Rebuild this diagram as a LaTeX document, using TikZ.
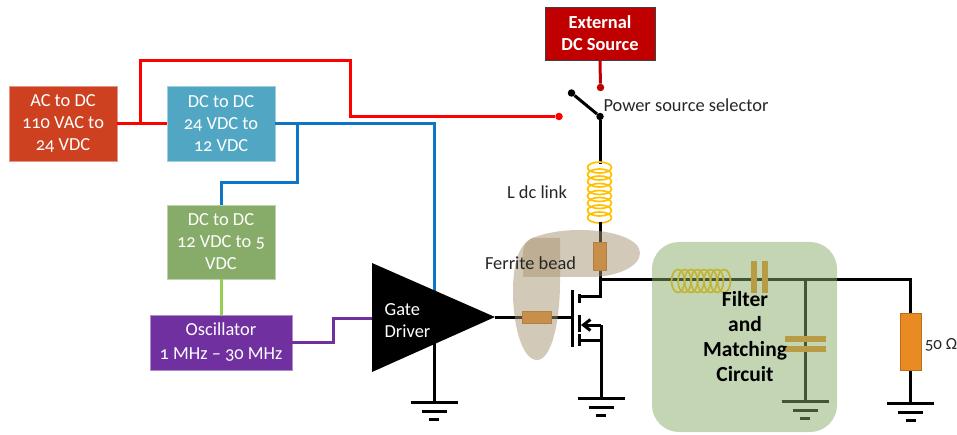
\documentclass[tikz,border=0pt]{standalone}
\usepackage{fontspec}
\setmainfont[Numbers=OldStyle]{Carlito}
\usetikzlibrary{shapes.geometric,arrows.meta}
\definecolor{acred}{HTML}{CE4120}
\definecolor{dcblue}{HTML}{51A7C3}
\definecolor{dcgreen}{HTML}{87AB68}
\definecolor{oscpurple}{HTML}{7030A0}
\definecolor{extred}{HTML}{C00000}
\definecolor{wireblue}{HTML}{0F75C6}
\definecolor{wirelime}{HTML}{92D050}
\definecolor{coilyellow}{HTML}{FFC000}
\definecolor{partorange}{HTML}{E98B22}
\definecolor{beadtan}{HTML}{A79371}
\tikzset{
  block/.style={rectangle,draw=#1!55!white,fill=#1,line width=0.8pt,text=white,align=center,
    font=\fontsize{18.4}{22}\selectfont,inner sep=0pt},
  caption/.style={font=\fontsize{18.4}{22}\selectfont,text=black!85,inner sep=0pt},
  wire/.style={line width=3pt},
  dot/.style={circle,fill=#1,inner sep=0pt,minimum size=7.5pt},
  part/.style={rectangle,draw=partorange!80!black,fill=partorange,line width=0.6pt,inner sep=0pt},
  plate/.style={rectangle,fill=partorange,inner sep=0pt},
  bead/.style={fill=beadtan,fill opacity=0.5},
  gnd/.pic={
    \draw[line width=3pt] (-23.5,0) -- (23.5,0);
    \draw[line width=3pt] (-12.5,9.5) -- (12.5,9.5);
    \draw[line width=3pt] (-5,17.5) -- (5,17.5);
  }
}
\begin{document}
\begin{tikzpicture}[x=1pt,y=-1pt]
\useasboundingbox (0,0) rectangle (957,435);

\node [block=acred,minimum width=108pt,minimum height=75pt] (acdc) at (63,123.5) {AC to DC\\110 VAC to\\24 VDC};
\node [block=dcblue,minimum width=108pt,minimum height=75pt] (dcone) at (221,123.5) {DC to DC\\24 VDC to\\12 VDC};
\node [block=dcgreen,minimum width=108pt,minimum height=74pt] (dctwo) at (221,242) {DC to DC\\12 VDC to 5\\VDC};
\node [block=oscpurple,minimum width=142pt,minimum height=55pt,font=\fontsize{18.4}{24}\selectfont] (osc) at (221,342.5) {Oscillator\\1 MHz -- 30 MHz};
\node [rectangle,draw=black!75,fill=extred,line width=0.8pt,text=white,align=center,inner sep=0pt,
  font=\fontsize{18.4}{22}\selectfont\bfseries,minimum width=110pt,minimum height=53pt] (ext) at (600,33.5) {External\\DC Source};

\coordinate (redtap) at (140,123.5);
\coordinate (redtop) at (350,61);
\coordinate (bluetap) at (297,124);
\coordinate (greentop) at (297,183);
\coordinate (drvvcc) at (434,291);
\coordinate (drvmid) at (434,340);
\coordinate (drvgnd) at (434,402);
\coordinate (drvin) at (372,318);
\coordinate (purplebend) at (333,318);
\coordinate (drvout) at (495,317);
\coordinate (gatebar) at (572,317);
\coordinate (drain) at (600,296);
\coordinate (drainstub) at (579,296);
\coordinate (coiltop) at (600,164);
\coordinate (coilend) at (600,222);
\coordinate (junction) at (600,280);
\coordinate (source) at (601,325);
\coordinate (srcarrow) at (581,325);
\coordinate (srcgnd) at (601,398);
\coordinate (load) at (910.5,280);
\coordinate (loadgnd) at (910.5,403);
\coordinate (shunt) at (805,280);
\coordinate (shuntgnd) at (805,401);

\node [dot=red] (redend) at (559,116.5) {};
\node [dot=extred] (extend) at (600.5,87.5) {};
\node [dot=black] (swarm) at (571.5,93) {};
\node [dot=black] (swpivot) at (600,116.5) {};

\draw[wire,red] (acdc.east) -- (dcone.west);
\draw[wire,red] (redtap) |- (redtop) |- (redend);
\draw[wire,extred] (ext.south) -- (extend);
\draw[wire] (swarm) -- (swpivot);
\draw[wire] (swpivot) -- (coiltop);
\draw[wire,wireblue] (dcone.east) -| (drvvcc);
\draw[wire,wireblue] (bluetap) |- (dctwo.north |- greentop) -- (dctwo.north);
\draw[wire,wirelime] (dctwo.south) -- (osc.north);
\draw[wire,oscpurple] (osc.east) -| (purplebend) -- (drvin);
\draw[wire] (drvmid) -- (drvgnd);
\pic at (drvgnd) {gnd};

\foreach \y in {167.5,174.5,181.5,189,196,203,210.5,217.5} {
  \draw[coilyellow,line width=1.7pt] (599.5,\y) ellipse (12pt and 5.5pt);
}
\draw[wire] (coilend) -- (junction);

\node [part,minimum width=13pt,minimum height=28pt] (beadtop) at (599.5,256) {};
\draw[wire] (junction) -- (drain) -- (drainstub);
\draw[wire] (junction) -- (load) -- (loadgnd);
\draw[wire] (shunt) -- (shuntgnd);
\pic at (shuntgnd) {gnd};
\pic at (loadgnd) {gnd};
\draw[wire] (drvout) -- (gatebar);
\node [part,minimum width=29pt,minimum height=12pt] (beadleft) at (536.5,317) {};

\draw[wire] (572,290) -- (572,347);
\draw[wire] (579,294) -- (579,303);
\draw[wire] (579,315) -- (579,332);
\draw[wire] (579,334) -- (579,346);
\draw[wire,-{Straight Barb[length=7pt,width=11pt]}] (source) -- (srcarrow);
\draw[wire] (579,340) -- (603,340);
\draw[wire] (source) -- (srcgnd);
\pic at (srcgnd) {gnd};

\fill (372,263) -- (drvout) -- (372,372) -- cycle;
\node [caption,text=white,align=left] (gatedrv) at (407.5,321) {Gate\\Driver};

\fill[bead] (523,277) -- (523,252) .. controls (524,243) and (528,240) .. (535,237)
  .. controls (552,231) and (568,230) .. (580,230) .. controls (615,230) and (640,240) .. (640,253)
  .. controls (640,266) and (618,277) .. (590,277) -- cycle;
\fill[bead] (532,238) -- (560,238) -- (560,282) .. controls (560,320) and (552,360) .. (537,360)
  .. controls (522,360) and (513,325) .. (513,292) .. controls (513,265) and (518,245) .. (532,238) -- cycle;

\node [part,minimum width=21pt,minimum height=57pt] (rload) at (910.5,341.5) {};
\foreach \x in {678,684.5,691,697.5,704,710.5,717,724} {
  \draw[coilyellow,line width=1.7pt] (\x,281) ellipse (6.5pt and 11.5pt);
}
\node [plate,minimum width=6pt,minimum height=32pt] (capa) at (754,277) {};
\node [plate,minimum width=6pt,minimum height=32pt] (capb) at (765,277) {};
\node [plate,minimum width=41pt,minimum height=6pt] (capc) at (805.5,339) {};
\node [plate,minimum width=41pt,minimum height=6pt] (capd) at (805.5,349) {};

\node [rectangle,rounded corners=27pt,fill=dcgreen,fill opacity=0.5,minimum width=185pt,minimum height=190pt,inner sep=0pt] (filterbox) at (744.5,337) {};

\node [font=\fontsize{21.5}{25}\selectfont\bfseries,align=center,inner sep=0pt] (filtertxt) at (745,337) {Filter\\and\\Matching\\Circuit};
\node [caption] (swlabel) at (686,105) {Power source selector};
\node [caption] (llabel) at (537,192.5) {L dc link};
\node [caption] (fblabel) at (530.5,263.5) {Ferrite bead};
\node [caption,font=\fontsize{17}{20}\selectfont] (rlabel) at (941,345) {50 Ω};
\end{tikzpicture}
\end{document}
